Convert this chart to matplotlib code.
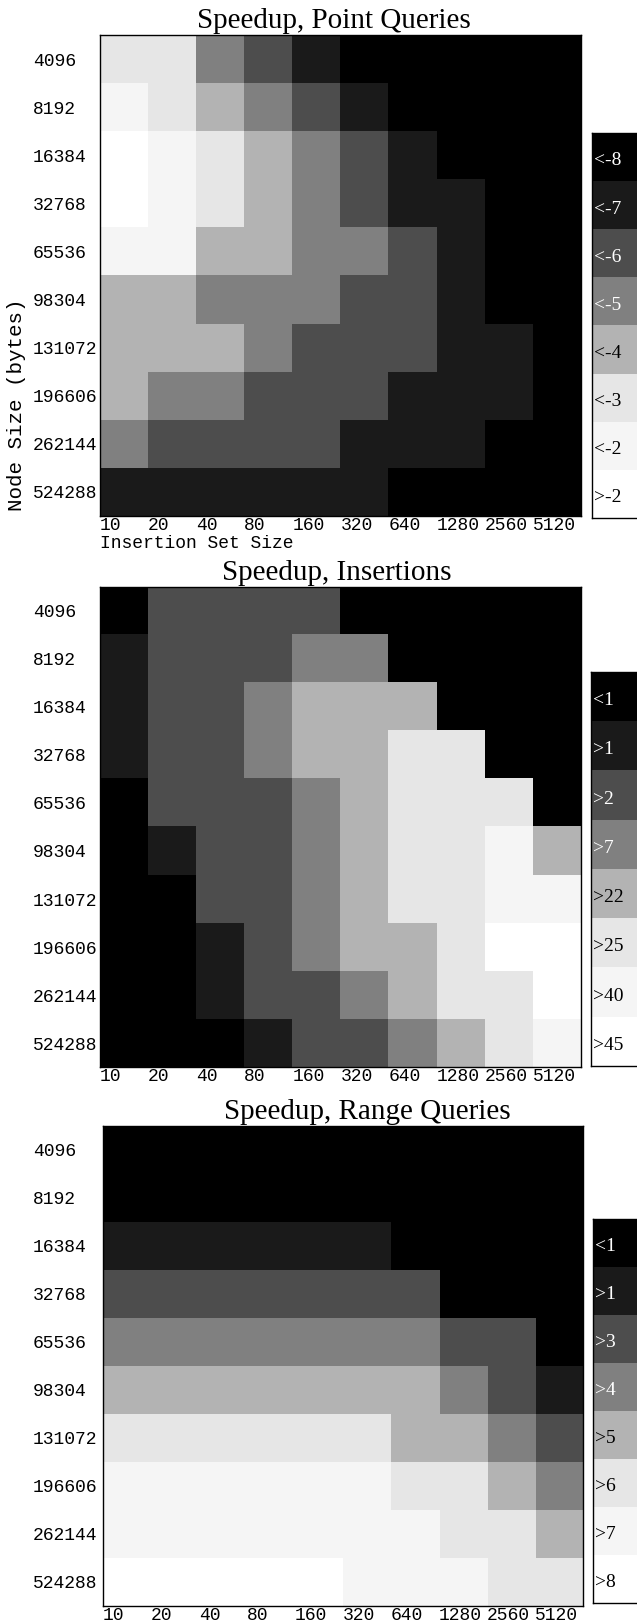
import numpy as np
import matplotlib
matplotlib.use("Agg")
import matplotlib.pyplot as plt
from matplotlib.colors import ListedColormap

# ---------------- data ----------------
insertion_sizes = ["10", "20", "40", "80", "160", "320", "640", "1280", "2560", "5120"]
node_sizes = ["4096", "8192", "16384", "32768", "65536", "98304",
              "131072", "196606", "262144", "524288"]

gray_levels = ["#000000", "#1a1a1a", "#4d4d4d", "#808080",
               "#b3b3b3", "#e6e6e6", "#f5f5f5", "#ffffff"]

point_legend = ["<-8", "<-7", "<-6", "<-5", "<-4", "<-3", "<-2", ">-2"]
insert_legend = ["<1", ">1", ">2", ">7", ">22", ">25", ">40", ">45"]
range_legend = ["<1", ">1", ">3", ">4", ">5", ">6", ">7", ">8"]

# level index (0 = darkest bucket ... 7 = lightest bucket); rows = node size, cols = insertion size
point_levels = [
    [5, 5, 3, 2, 1, 0, 0, 0, 0, 0],
    [6, 5, 4, 3, 2, 1, 0, 0, 0, 0],
    [7, 6, 5, 4, 3, 2, 1, 0, 0, 0],
    [7, 6, 5, 4, 3, 2, 1, 1, 0, 0],
    [6, 6, 4, 4, 3, 3, 2, 1, 0, 0],
    [4, 4, 3, 3, 3, 2, 2, 1, 0, 0],
    [4, 4, 4, 3, 2, 2, 2, 1, 1, 0],
    [4, 3, 3, 2, 2, 2, 1, 1, 1, 0],
    [3, 2, 2, 2, 2, 1, 1, 1, 0, 0],
    [1, 1, 1, 1, 1, 1, 0, 0, 0, 0],
]
insert_levels = [
    [0, 2, 2, 2, 2, 0, 0, 0, 0, 0],
    [1, 2, 2, 2, 3, 3, 0, 0, 0, 0],
    [1, 2, 2, 3, 4, 4, 4, 0, 0, 0],
    [1, 2, 2, 3, 4, 4, 5, 5, 0, 0],
    [0, 2, 2, 2, 3, 4, 5, 5, 5, 0],
    [0, 1, 2, 2, 3, 4, 5, 5, 6, 4],
    [0, 0, 2, 2, 3, 4, 5, 5, 6, 6],
    [0, 0, 1, 2, 3, 4, 4, 5, 7, 7],
    [0, 0, 1, 2, 2, 3, 4, 5, 5, 7],
    [0, 0, 0, 1, 2, 2, 3, 4, 5, 6],
]
range_levels = [
    [0, 0, 0, 0, 0, 0, 0, 0, 0, 0],
    [0, 0, 0, 0, 0, 0, 0, 0, 0, 0],
    [1, 1, 1, 1, 1, 1, 0, 0, 0, 0],
    [2, 2, 2, 2, 2, 2, 2, 0, 0, 0],
    [3, 3, 3, 3, 3, 3, 3, 2, 2, 0],
    [4, 4, 4, 4, 4, 4, 4, 3, 2, 1],
    [5, 5, 5, 5, 5, 5, 4, 4, 3, 2],
    [6, 6, 6, 6, 6, 6, 5, 5, 4, 3],
    [6, 6, 6, 6, 6, 6, 6, 5, 5, 4],
    [7, 7, 7, 7, 7, 6, 6, 6, 5, 5],
]

titles = ["Speedup, Point Queries", "Speedup, Insertions", "Speedup, Range Queries"]

# ---------------- layout ----------------
W, H = 637, 1622
DPI = 100
fig = plt.figure(figsize=(W / DPI, H / DPI), dpi=DPI)
fig.patch.set_facecolor("white")

MONO = "Liberation Mono"
SERIF = "Liberation Serif"
cmap = ListedColormap(gray_levels)


def rect(x0, y0, x1, y1):
    return [x0 / W, 1 - y1 / H, (x1 - x0) / W, (y1 - y0) / H]


panels = [
    dict(data=point_levels, legend=point_legend, box=(100, 35, 581, 516),
         lbox=(592, 133, 720, 518), title_xy=(334, 28)),
    dict(data=insert_levels, legend=insert_legend, box=(100, 587, 581, 1067),
         lbox=(591, 672, 720, 1066), title_xy=(337, 580)),
    dict(data=range_levels, legend=range_legend, box=(103, 1126, 583, 1606),
         lbox=(593, 1219, 720, 1603), title_xy=(367, 1119)),
]

for k, p in enumerate(panels):
    x0, y0, x1, y1 = p["box"]
    ax = fig.add_axes(rect(x0, y0, x1, y1))
    arr = np.array(p["data"])
    ax.imshow(arr, cmap=cmap, vmin=-0.5, vmax=7.5, aspect="auto",
              interpolation="nearest", extent=(-0.5, 9.5, 9.5, -0.5))
    ax.set_xlim(-0.5, 9.5)
    ax.set_ylim(9.5, -0.5)
    for s in ax.spines.values():
        s.set_color("black")
        s.set_linewidth(1.0)
    ax.set_xticks(np.arange(len(insertion_sizes)) - 0.5)
    ax.set_xticklabels(insertion_sizes, fontfamily=MONO, fontsize=13, ha="left")
    ax.set_yticks(np.arange(len(node_sizes)))
    ypad = (x0 - 33) * 72 / DPI
    ax.set_yticklabels(node_sizes, fontfamily=MONO, fontsize=13, ha="left")
    ax.tick_params(axis="x", length=0, pad=0.5)
    ax.tick_params(axis="y", length=0, pad=ypad)

    tx, ty = p["title_xy"]
    fig.text(tx / W, 1 - ty / H, titles[k], fontfamily=SERIF,
             fontsize=21, ha="center", va="baseline")

    # legend strip
    lx0, ly0, lx1, ly1 = p["lbox"]
    lax = fig.add_axes(rect(lx0, ly0, lx1, ly1))
    levels = np.arange(len(p["legend"])).reshape(-1, 1)
    lax.imshow(levels, cmap=cmap, vmin=-0.5, vmax=7.5, aspect="auto",
               interpolation="nearest", extent=(0, 1, len(p["legend"]) - 0.5, -0.5))
    lax.set_xlim(0, 1)
    lax.set_ylim(len(p["legend"]) - 0.5, -0.5)
    lax.set_xticks([])
    lax.set_yticks([])
    for s in lax.spines.values():
        s.set_color("black")
        s.set_linewidth(1.0)
    for i, lab in enumerate(p["legend"]):
        col = "white" if i < 4 else "black"
        lax.text(2.0 / (lx1 - lx0), i + 0.08, lab, fontfamily=SERIF, fontsize=14,
                 color=col, ha="left", va="center")

# axis labels (only on first panel)
fig.text(100 / W, 1 - 548 / H, "Insertion Set Size", fontfamily=MONO, fontsize=13,
         ha="left", va="baseline")
fig.text(17 / W, 1 - 405 / H, "Node Size (bytes)", fontfamily=MONO, fontsize=15,
         ha="center", va="center", rotation=90)

fig.savefig("out.png", dpi=DPI, facecolor="white")
